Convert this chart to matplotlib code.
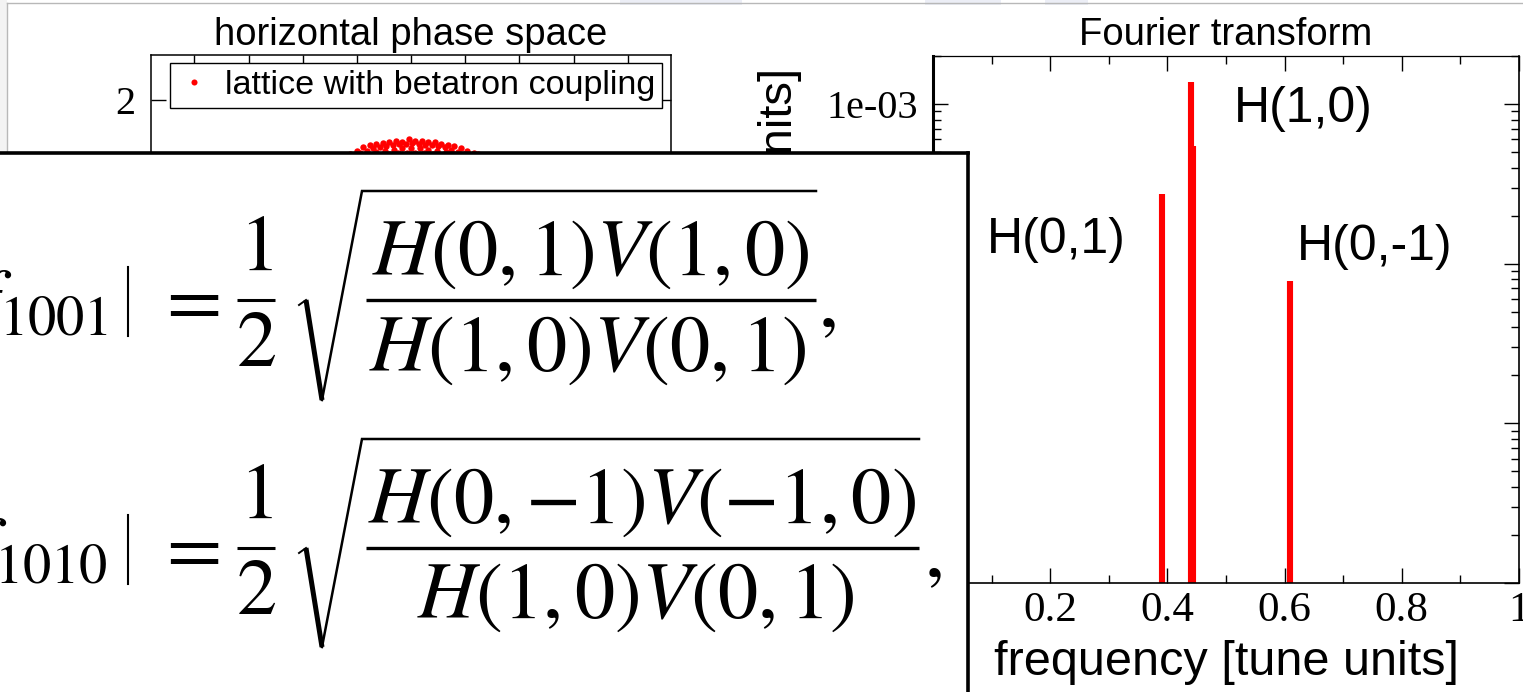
import matplotlib.pyplot as plt
from matplotlib import patches
from matplotlib.lines import Line2D
from matplotlib.ticker import FuncFormatter, LogLocator, MultipleLocator, NullFormatter

plt.rcParams["font.family"] = ["Liberation Sans", "DejaVu Sans"]
plt.rcParams["mathtext.fontset"] = "stix"

W, H = 1523, 692
SERIF = "Liberation Serif"

# Fourier transform: spectral lines (tune units, amplitude)
line_freq = [0.390, 0.440, 0.443, 0.610]
line_amp = [2.74e-4, 1.37e-3, 5.5e-4, 7.8e-5]

# peak annotations
peak_labels = ["H(0,1)", "H(1,0)", "H(0,-1)"]
peak_label_freq = [0.092, 0.514, 0.621]
peak_label_amp = [1.40e-4, 9.3e-4, 1.28e-4]

freq_ticks = [0.0, 0.2, 0.4, 0.6, 0.8, 1.0]

# visible top of the horizontal phase-space ring
phase_x = [
    -0.56, -0.50, -0.44, -0.38, -0.32, -0.26, -0.20, -0.14, -0.08, -0.02, 0.04,
    0.10, 0.16, 0.22, 0.28, 0.34, 0.40, 0.46, 0.52, 0.58, 0.62,
    -0.53, -0.47, -0.41, -0.35, -0.29, -0.23, -0.17, -0.11, -0.05, 0.01,
    0.07, 0.13, 0.19, 0.25, 0.31, 0.37, 0.43, 0.49, 0.55, 0.61,
    -0.56, -0.48, -0.40, -0.32, -0.24, -0.16, -0.08, 0.00, 0.08, 0.16, 0.24,
    0.32, 0.40, 0.48, 0.56, 0.62,
    -0.52, -0.44, -0.36, -0.28, -0.20, -0.12, -0.04, 0.04, 0.12, 0.20, 0.28,
    0.36, 0.44, 0.52, 0.60,
]
phase_y = [
    1.52, 1.55, 1.58, 1.60, 1.61, 1.62, 1.63, 1.64, 1.63, 1.65, 1.64,
    1.64, 1.63, 1.63, 1.61, 1.60, 1.59, 1.57, 1.55, 1.53, 1.52,
    1.50, 1.53, 1.55, 1.57, 1.58, 1.59, 1.60, 1.61, 1.61, 1.62,
    1.61, 1.60, 1.60, 1.59, 1.58, 1.56, 1.54, 1.52, 1.50, 1.49,
    1.48, 1.50, 1.52, 1.54, 1.55, 1.56, 1.57, 1.57, 1.57, 1.56, 1.55,
    1.54, 1.52, 1.50, 1.48, 1.47,
    1.46, 1.48, 1.50, 1.51, 1.52, 1.53, 1.53, 1.53, 1.53, 1.52, 1.51,
    1.50, 1.48, 1.46, 1.45,
]


def px_rect(x0, y0, x1, y1):
    return [x0 / W, 1 - y1 / H, (x1 - x0) / W, (y1 - y0) / H]


fig = plt.figure(figsize=(W / 100, H / 100), dpi=100)
fig.patch.set_facecolor("white")

# faint slide background bits
fig.add_artist(patches.Rectangle((0, 1 - 153 / H), 7 / W, 153 / H,
                                 transform=fig.transFigure, color="#f3f3f3", lw=0))
for x0, x1 in [(620, 742), (925, 1001), (1045, 1088)]:
    fig.add_artist(patches.Rectangle((x0 / W, 1 - 5 / H), (x1 - x0) / W, 5 / H,
                                     transform=fig.transFigure, color="#eceef6", lw=0))
fig.add_artist(Line2D([7 / W, 1], [1 - 3 / H] * 2, color="#b8b8b8", lw=1))
fig.add_artist(Line2D([7 / W] * 2, [1 - 3 / H, 1 - 153 / H], color="#b8b8b8", lw=1))

# ---- left: horizontal phase space ----
ax_ps = fig.add_axes(px_rect(151, 55, 671, 595))
ax_ps.plot(phase_x, phase_y, "o", color="red", ms=4.6, mec="none",
           label="lattice with betatron coupling")
ax_ps.set_xlim(-2.4, 2.4)
ax_ps.set_ylim(-2.4, 2.4)
ax_ps.xaxis.set_major_locator(MultipleLocator(0.5))
ax_ps.yaxis.set_major_locator(MultipleLocator(1))
ax_ps.yaxis.set_major_formatter(FuncFormatter(lambda v, _: f"{v:g}"))
ax_ps.tick_params(direction="in", top=True, right=True, width=1,
                  labelsize=29, labelfontfamily=SERIF)
ax_ps.tick_params(axis="x", length=6)
ax_ps.tick_params(axis="y", length=11, pad=11)
for sp in ax_ps.spines.values():
    sp.set_linewidth(1.1)
ax_ps.set_title("horizontal phase space", fontsize=27.5, pad=7)
ax_ps.legend(loc="upper left", bbox_to_anchor=(19 / 520, 1 - 8 / 540),
             borderaxespad=0, fontsize=24.6, frameon=True, fancybox=False,
             edgecolor="black", framealpha=1, borderpad=0.2,
             handlelength=1.0, handletextpad=0.4, markerscale=0.95)
ax_ps.get_legend().get_frame().set_linewidth(1.0)

# ---- right: Fourier transform ----
ax_ft = fig.add_axes(px_rect(933, 56, 1519, 583))
ax_ft.vlines(line_freq, 1e-6, line_amp, colors="red", linewidth=4.4)
for lab, fx, fy in zip(peak_labels, peak_label_freq, peak_label_amp):
    ax_ft.text(fx, fy, lab, fontsize=36, ha="left", va="center")
ax_ft.set_yscale("log")
ax_ft.set_xlim(0, 1)
ax_ft.set_ylim(1e-6, 2e-3)
ax_ft.set_xticks(freq_ticks)
ax_ft.xaxis.set_minor_locator(MultipleLocator(0.1))
ax_ft.xaxis.set_major_formatter(FuncFormatter(lambda v, _: f"{v:g}"))
ax_ft.yaxis.set_major_locator(LogLocator(base=10))
ax_ft.yaxis.set_minor_locator(LogLocator(base=10, subs=range(2, 10)))
ax_ft.yaxis.set_minor_formatter(NullFormatter())
ax_ft.yaxis.set_major_formatter(FuncFormatter(lambda v, _: f"{v:.0e}"))
ax_ft.tick_params(which="both", direction="in", top=True, right=True, width=1,
                  labelsize=29, labelfontfamily=SERIF)
ax_ft.tick_params(which="major", length=11)
ax_ft.tick_params(which="minor", length=5.5)
ax_ft.tick_params(axis="y", pad=11)
ax_ft.tick_params(axis="x", pad=6, labelsize=31)
ax_ft.spines["left"].set_linewidth(2.2)
ax_ft.spines["top"].set_linewidth(0.9)
ax_ft.spines["right"].set_linewidth(1.2)
ax_ft.spines["bottom"].set_linewidth(1.2)
ax_ft.set_title("Fourier transform", fontsize=27.5, pad=8)
ax_ft.set_xlabel("frequency [tune units]", fontsize=35)
ax_ft.xaxis.set_label_coords(0.5, -0.108)
fig.text(780 / W, 1 - 68 / H, "amplitude [arb. units]", fontsize=34,
         rotation=90, ha="center", va="top")

# ---- overlay box with coupling formulas ----
ov = fig.add_axes(px_rect(-10, 153, 968, 702), zorder=5)
ov.set_xlim(-10, 968)
ov.set_ylim(702, 153)
ov.set_facecolor("white")
ov.set_xticks([])
ov.set_yticks([])
for side in ("left", "bottom"):
    ov.spines[side].set_visible(False)
for side in ("top", "right"):
    ov.spines[side].set_linewidth(2.6)

EQ = 58
eq_rows = [
    # subscript label, "=" y, frac bar y, overbar y, radical bottom, overbar end,
    # numerator, num centre, denominator, den centre, comma
    (r"$f_{1001}$", 303, 300, 191, 400, 816,
     r"$H(0,1)V(1,0)$", (591, 254), r"$H(1,0)V(0,1)$", (588, 350), (827, 306)),
    (r"$f_{1010}$", 551, 548, 439, 647, 919,
     r"$H(0,{-}1)V({-}1,0)$", (642, 502), r"$H(1,0)V(0,1)$", (636, 597), (933, 556)),
]
for (lab, ye, yb, yo, yr, xo_end, num, num_c, den, den_c, comma) in eq_rows:
    ov.text(108, ye + 3, lab, fontsize=EQ, ha="right", va="center")
    ov.plot([128, 128], [ye - 36, ye + 33], color="black", lw=1.5)
    ov.text(187, ye, r"$=$", fontsize=EQ, ha="center", va="center")
    ov.text(256, yb - 51, r"$1$", fontsize=EQ, ha="center", va="center")
    ov.text(256, yb + 45, r"$2$", fontsize=EQ, ha="center", va="center")
    ov.plot([237, 275], [yb, yb], color="black", lw=2.2, solid_capstyle="butt")
    # radical sign and overbar
    ov.plot([299, 306], [yb + 5, yb], color="black", lw=1.4)
    ov.plot([306, 322], [yb, yr], color="black", lw=3.6, solid_capstyle="butt")
    ov.plot([322, 362, xo_end], [yr, yo, yo], color="black", lw=1.8,
            solid_joinstyle="miter")
    ov.plot([366, xo_end], [yb, yb], color="black", lw=2.4, solid_capstyle="butt")
    ov.text(num_c[0], num_c[1], num, fontsize=EQ, ha="center", va="center")
    ov.text(den_c[0], den_c[1], den, fontsize=EQ, ha="center", va="center")
    ov.text(comma[0], comma[1], r"$,$", fontsize=EQ, ha="center", va="center")

fig.savefig("out.png", dpi=100)
